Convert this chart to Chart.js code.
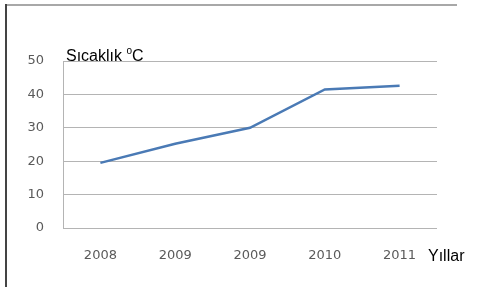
<!DOCTYPE html>
<html lang="tr">
<head>
  <meta charset="UTF-8">
  <title>Sıcaklık</title>
  <script src="https://cdn.jsdelivr.net/npm/chart.js"></script>
  <style>
    html, body { margin: 0; padding: 0; background: #fff; }
    #kutu { position: absolute; left: 0; top: 0; width: 477px; height: 287px; }
    #kenarUst { position: absolute; left: 6px; top: 4px; width: 451px; height: 0; border-top: 2px solid #a8a8a8; }
    #kenarSol { position: absolute; left: 5px; top: 4px; width: 0; height: 283px; border-left: 2px solid #444; }
    canvas { position: absolute; left: 0; top: 0; }
  </style>
</head>
<body>
<div id="kutu">
  <canvas id="grafik" width="477" height="287"></canvas>
  <div id="kenarUst"></div>
  <div id="kenarSol"></div>
</div>

<script>
const yillar = ["2008", "2009", "2009", "2010", "2011"];
const sicaklik = [19.5, 25.2, 30, 41.5, 42.6];
const yTikler = [0, 10, 20, 30, 40, 50];
const yEksenBaslik = ["Sıcaklık ", "o", "C"];
const xEksenBaslik = "Yıllar";

const basliklar = {
  id: 'basliklar',
  afterDraw(chart) {
    const ctx = chart.ctx;
    ctx.save();
    ctx.fillStyle = '#000';
    ctx.textBaseline = 'alphabetic';
    ctx.textAlign = 'left';
    let x = 66;
    ctx.font = '16px "Liberation Sans", Arial, sans-serif';
    ctx.fillText(yEksenBaslik[0], x, 61);
    x += ctx.measureText(yEksenBaslik[0]).width;
    ctx.font = '10px "Liberation Sans", Arial, sans-serif';
    ctx.fillText(yEksenBaslik[1], x, 54);
    x += ctx.measureText(yEksenBaslik[1]).width;
    ctx.font = '16px "Liberation Sans", Arial, sans-serif';
    ctx.fillText(yEksenBaslik[2], x, 61);
    ctx.fillText(xEksenBaslik, 428, 261);
    ctx.restore();
  }
};

const tikFont = { family: '"DejaVu Sans", sans-serif', size: 13 };

new Chart(document.getElementById('grafik').getContext('2d'), {
  type: 'line',
  data: {
    labels: yillar,
    datasets: [{
      data: sicaklik,
      borderColor: '#4a7ab5',
      borderWidth: 2.5,
      pointRadius: 0,
      fill: false,
      tension: 0
    }]
  },
  options: {
    responsive: false,
    animation: false,
    layout: { padding: { left: 0, top: 61, right: 40, bottom: 0 } },
    scales: {
      x: {
        offset: true,
        grid: { display: false },
        border: { display: false },
        ticks: {
          color: '#5a5a5a',
          font: tikFont,
          padding: 12,
          maxRotation: 0,
          autoSkip: false
        },
        afterFit(s) { s.height = 59; }
      },
      y: {
        min: 0,
        max: 50,
        afterBuildTicks(s) { s.ticks = yTikler.map(v => ({ value: v })); },
        grid: { color: '#b4b4b4', lineWidth: 1, drawTicks: false },
        border: { display: true, color: '#b4b4b4', width: 1 },
        ticks: {
          color: '#5a5a5a',
          font: tikFont,
          padding: 19
        },
        afterFit(s) { s.width = 63; }
      }
    },
    plugins: {
      legend: { display: false },
      tooltip: { enabled: false }
    }
  },
  plugins: [basliklar]
});
</script>
</body>
</html>
